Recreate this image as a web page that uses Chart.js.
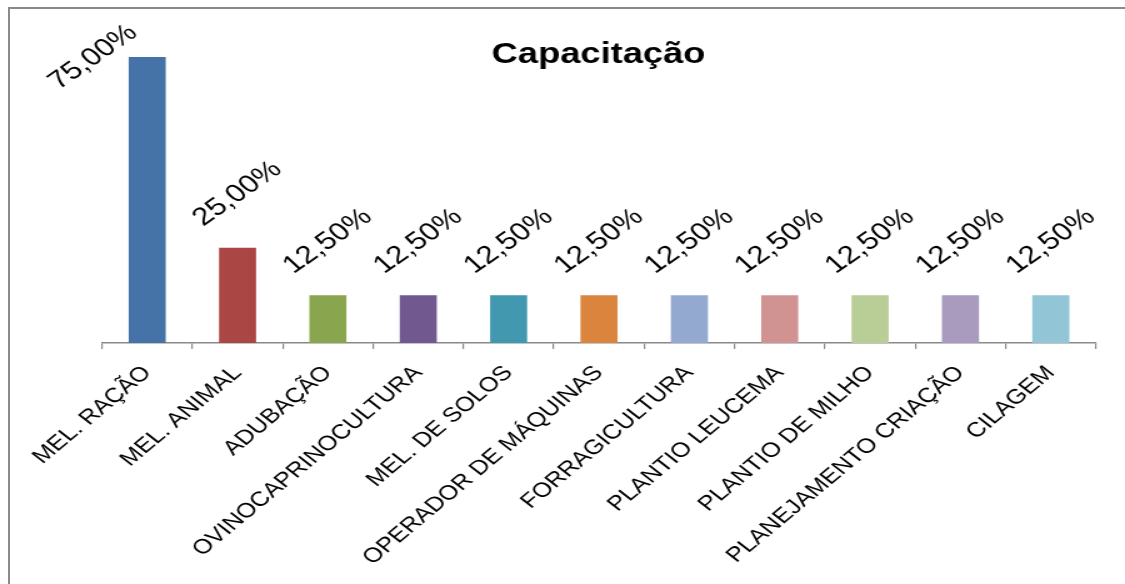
<!DOCTYPE html>
<html><head><meta charset="utf-8">
<script src="https://cdn.jsdelivr.net/npm/chart.js@4.4.1/dist/chart.umd.min.js"></script>
<style>
html,body{margin:0;padding:0;background:#fff;overflow:hidden;width:1125px;height:584px;}
#frame{position:absolute;left:8px;top:7px;width:1300px;height:800px;border:2px solid #8a8a8a;border-right:none;border-bottom:none;}
#wrap{position:absolute;left:0;top:0;width:900px;height:584px;transform:scaleX(1.25);transform-origin:0 0;}
</style></head><body>
<div id="frame"></div>
<div id="wrap"><canvas id="c" width="900" height="584"></canvas></div>
<script>
const chartTitle = 'Capacitação';
const categories = ['MEL. RAÇÃO','MEL. ANIMAL','ADUBAÇÃO','OVINOCAPRINOCULTURA','MEL. DE SOLOS','OPERADOR DE MÁQUINAS','FORRAGICULTURA','PLANTIO LEUCEMA','PLANTIO DE MILHO','PLANEJAMENTO CRIAÇÃO','CILAGEM'];
const values = [75, 25, 12.5, 12.5, 12.5, 12.5, 12.5, 12.5, 12.5, 12.5, 12.5];
const barColors = ['#4572A7','#AA4643','#89A54E','#71588F','#4198AF','#DB843D','#93A9CF','#D19392','#B9CD96','#A99BBD','#92C5D6'];

const FONT = '"Liberation Sans", Arial, sans-serif';
const fmt = v => v.toFixed(2).replace('.', ',') + '%';

const titlePlugin = {
  id: 'titleText',
  afterDraw(chart) {
    const ctx = chart.ctx;
    ctx.save();
    ctx.font = 'bold 29px ' + FONT;
    ctx.fillStyle = '#000';
    ctx.textAlign = 'center';
    ctx.textBaseline = 'alphabetic';
    ctx.fillText(chartTitle, 478.8, 63);
    ctx.restore();
  }
};

const labelPlugin = {
  id: 'valueLabels',
  afterDatasetsDraw(chart) {
    const ctx = chart.ctx;
    const meta = chart.getDatasetMeta(0);
    const a = 41 * Math.PI / 180;
    ctx.save();
    ctx.font = '25px ' + FONT;
    ctx.fillStyle = '#000';
    ctx.textAlign = 'center';
    ctx.textBaseline = 'middle';
    meta.data.forEach((bar, i) => {
      const txt = fmt(values[i]);
      const w = ctx.measureText(txt).width, h = 25;
      const halfH = (w * Math.sin(a) + h * Math.cos(a)) / 2;
      let cx = bar.x, cy = bar.y - 54;
      const minTop = 20;
      if (cy - halfH < minTop) {
        const sh = minTop + halfH - cy;
        cy += sh;
        cx -= sh * 0.8;
      }
      ctx.save();
      ctx.translate(cx, cy);
      ctx.rotate(-a);
      ctx.fillText(txt, 0, 0);
      ctx.restore();
    });
    ctx.restore();
  }
};

new Chart(document.getElementById('c'), {
  type: 'bar',
  data: {
    labels: categories,
    datasets: [{
      data: values,
      backgroundColor: barColors,
      borderWidth: 0,
      categoryPercentage: 1,
      barPercentage: 0.41
    }]
  },
  options: {
    responsive: false,
    animation: false,
    devicePixelRatio: 1,
    layout: { padding: { left: 81.6, right: 23.2, top: 38, bottom: 0 } },
    plugins: { legend: { display: false }, tooltip: { enabled: false }, title: { display: false } },
    scales: {
      y: { display: false, min: 0, max: 80 },
      x: {
        offset: true,
        grid: { offset: true, drawOnChartArea: false, drawTicks: true, tickLength: 6, color: '#8a8a8a', lineWidth: 1.2 },
        border: { display: true, color: '#8a8a8a', width: 1.5 },
        ticks: {
          autoSkip: false,
          minRotation: 46, maxRotation: 46,
          padding: 12,
          color: '#000',
          font: { family: FONT, size: 20.5 }
        },
        afterFit(scale) {
          scale.height = 241;
          scale.paddingLeft = 0;
          scale.paddingRight = 0;
        }
      }
    }
  },
  plugins: [labelPlugin, titlePlugin]
});
</script>
</body></html>
